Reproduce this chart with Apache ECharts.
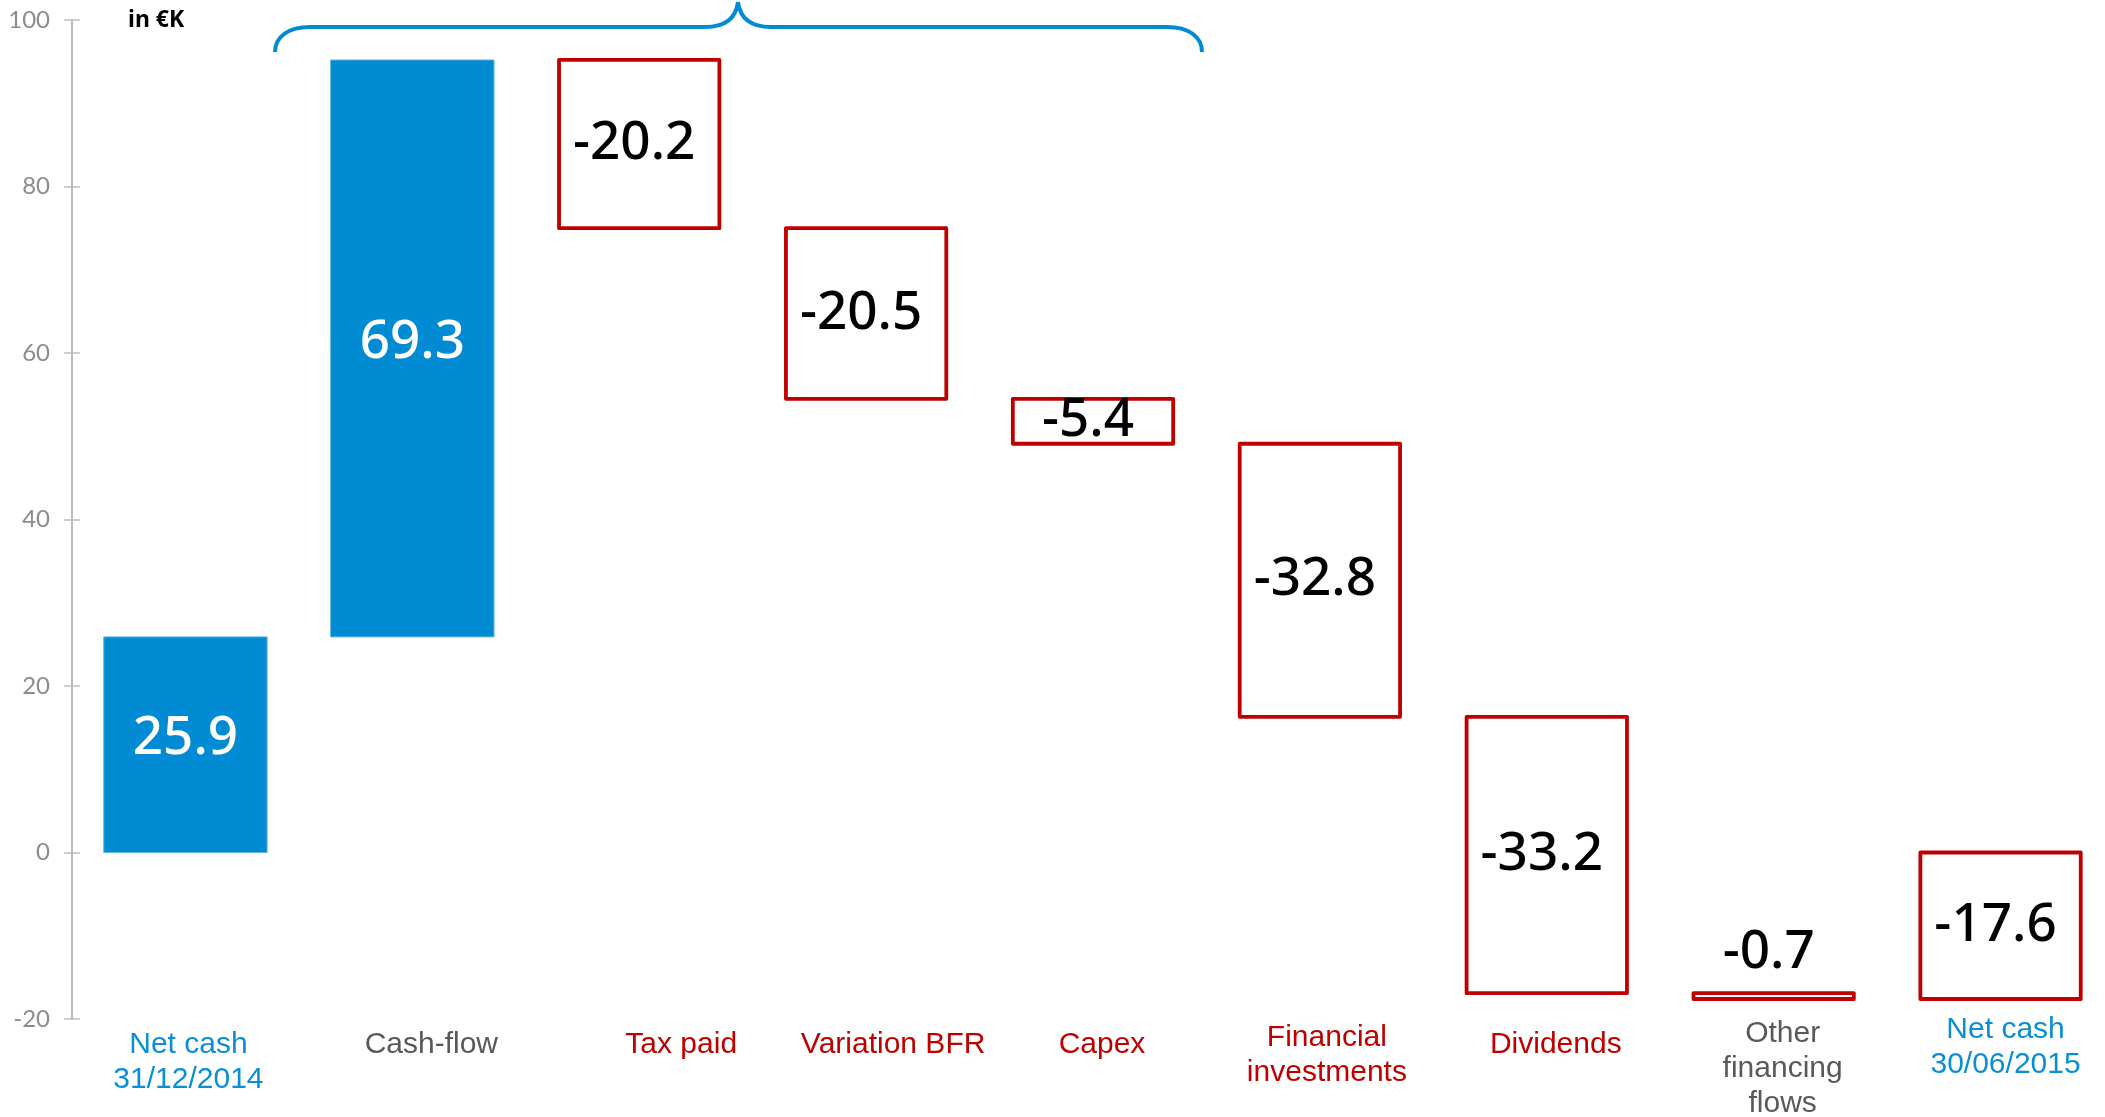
<!DOCTYPE html>
<html>
<head>
<meta charset="utf-8">
<script src="https://cdn.jsdelivr.net/npm/echarts@6/dist/echarts.min.js"></script>
<style>
html,body{margin:0;padding:0;background:#fff;}
#chart{width:2105px;height:1117px;}
</style>
</head>
<body>
<div id="chart"></div>
<script>
const categories = ['Net cash\n31/12/2014','Cash-flow','Tax paid','Variation BFR','Capex','Financial\ninvestments','Dividends','Other\nfinancing\nflows','Net cash\n30/06/2015'];
const deltas = [25.9, 69.3, -20.2, -20.5, -5.4, -32.8, -33.2, -0.7, -17.6];
const isTotal = [true, false, false, false, false, false, false, false, true];
const yTicks = { min: -20, max: 100, interval: 20 };
const unitLabel = 'in €K';

// waterfall ranges
const ranges = [];
let run = 0;
deltas.forEach((d, i) => {
  let lo, hi;
  if (isTotal[i]) {
    lo = Math.min(0, d); hi = Math.max(0, d); run = d;
  } else {
    const s = run, e = run + d;
    lo = Math.min(s, e); hi = Math.max(s, e); run = e;
  }
  ranges.push([i, lo, hi, d]);
});

const BLUE = '#008bd2';
const RED = '#c00000';
const GRAY = '#595959';
const LBLUE = '#0a8fd6';

function labelColor(i) {
  if (isTotal[i]) return LBLUE;
  if (deltas[i] > 0 || categories[i].indexOf('Other') === 0) return GRAY;
  return RED;
}
const nudgeX = [3, 19, 42, 27, 9, 7, 9, 9, 5];
const nudgeY = [0, 0, 0, 0, 0, -7, 0, -11, -15];
const catData = categories.map((c, i) => ({
  value: c,
  textStyle: { color: labelColor(i), padding: [nudgeY[i], 0, 0, nudgeX[i] * 2] }
}));

function braceParts() {
  const s = { stroke: BLUE, lineWidth: 4, fill: 'none' };
  return [
    { type: 'bezierCurve', shape: { x1: 275, y1: 52, cpx1: 275, cpy1: 37, cpx2: 288, cpy2: 27, x2: 310, y2: 27 }, style: s },
    { type: 'line', shape: { x1: 310, y1: 27, x2: 705, y2: 27 }, style: s },
    { type: 'bezierCurve', shape: { x1: 705, y1: 27, cpx1: 725, cpy1: 27, cpx2: 736, cpy2: 18, x2: 738, y2: 2 }, style: s },
    { type: 'bezierCurve', shape: { x1: 738, y1: 2, cpx1: 740, cpy1: 18, cpx2: 751, cpy2: 27, x2: 771, y2: 27 }, style: s },
    { type: 'line', shape: { x1: 771, y1: 27, x2: 1167, y2: 27 }, style: s },
    { type: 'bezierCurve', shape: { x1: 1167, y1: 27, cpx1: 1189, cpy1: 27, cpx2: 1202, cpy2: 37, x2: 1202, y2: 52 }, style: s }
  ];
}

const chart = echarts.init(document.getElementById('chart'), null, { renderer: 'canvas' });
const option = {
  animation: false,
  backgroundColor: '#fff',
  grid: { left: 72, top: 20, width: 2042, height: 999, containLabel: false, outerBoundsMode: 'none' },
  xAxis: {
    type: 'category',
    data: catData,
    axisLine: { show: false },
    axisTick: { show: false },
    axisLabel: {
      interval: 0,
      margin: 8,
      fontFamily: "'Liberation Sans Narrow','Arial Narrow',sans-serif",
      fontSize: 30,
      lineHeight: 35,
      verticalAlign: 'top'
    }
  },
  yAxis: [{
    type: 'value',
    min: yTicks.min, max: yTicks.max, interval: yTicks.interval,
    axisLine: { show: true, lineStyle: { color: '#a6a6a6', width: 1.5 } },
    axisTick: { show: true, length: 8, lineStyle: { color: '#bfbfbf', width: 1.5 } },
    axisLabel: { color: '#8c8c8c', fontSize: 24, fontFamily: 'Lato, sans-serif', margin: 22 },
    splitLine: { show: false }
  }, {
    type: 'value',
    position: 'left',
    min: yTicks.min, max: yTicks.max, interval: yTicks.interval,
    axisLine: { show: false },
    axisTick: { show: true, inside: true, length: 8, lineStyle: { color: '#bfbfbf', width: 1.5 } },
    axisLabel: { show: false },
    splitLine: { show: false }
  }],
  series: [{
    type: 'custom',
    data: ranges,
    encode: { x: 0, y: [1, 2] },
    renderItem: function (params, api) {
      const i = api.value(0), lo = api.value(1), hi = api.value(2), d = api.value(3);
      const pTop = api.coord([i, hi]);
      const pBot = api.coord([i, lo]);
      const bw = api.size([1, 0])[0] * 0.72;
      const x = pTop[0] - bw / 2;
      const y = pTop[1];
      const h = pBot[1] - pTop[1];
      const filled = d > 0;
      const rect = filled ? {
        type: 'rect',
        shape: { x: x, y: y, width: bw, height: h },
        style: { fill: BLUE, stroke: '#5fb4e4', lineWidth: 1 }
      } : {
        type: 'rect',
        shape: { x: x + 1.5, y: y, width: bw - 3, height: h },
        style: { fill: '#fff', stroke: RED, lineWidth: 3.8, lineJoin: 'round' }
      };
      const small = h < 20;
      const txt = {
        type: 'text',
        style: {
          text: d.toFixed(1),
          x: pTop[0] + (filled ? 0 : -5),
          y: small ? y - 40 : y + h / 2 - (filled ? 6 : 0),
          align: 'center',
          verticalAlign: 'middle',
          fill: filled ? '#fff' : '#000',
          font: "500 53px 'Noto Sans', sans-serif"
        }
      };
      return { type: 'group', children: [rect, txt] };
    }
  }],
  graphic: [{
    type: 'text',
    left: 128, top: 9,
    style: { text: unitLabel, font: "bold 23px 'Noto Sans', sans-serif", fill: '#000' }
  }].concat(braceParts())
};
chart.setOption(option);
</script>
</body>
</html>
